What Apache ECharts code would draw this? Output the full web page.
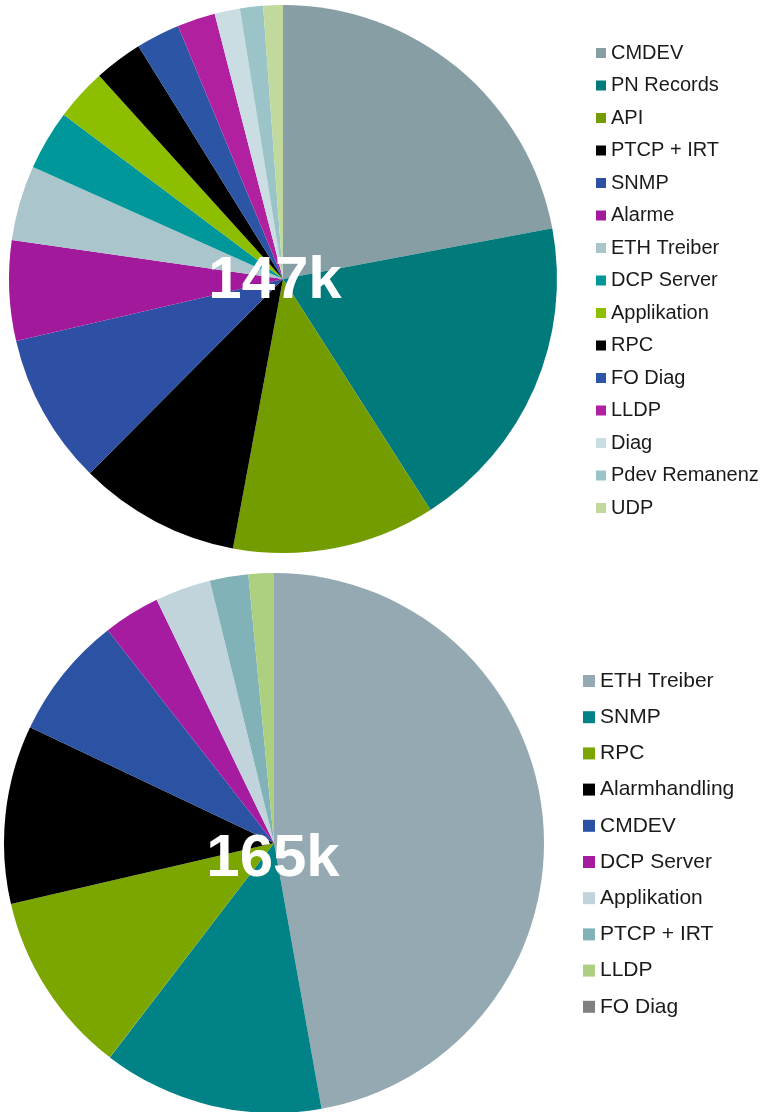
<!DOCTYPE html>
<html>
<head>
<meta charset="utf-8">
<script src="https://cdn.jsdelivr.net/npm/echarts@6/dist/echarts.min.js"></script>
<style>
  html, body { margin: 0; padding: 0; background: #ffffff; }
  #chart { width: 766px; height: 1112px; }
</style>
</head>
<body>
<div id="chart"></div>
<script>
// Code size per module (kB), first build: 147k in total
const topNames = ['CMDEV', 'PN Records', 'API', 'PTCP + IRT', 'SNMP', 'Alarme', 'ETH Treiber',
  'DCP Server', 'Applikation', 'RPC', 'FO Diag', 'LLDP', 'Diag', 'Pdev Remanenz', 'UDP'];
const topValues = [32.4, 27.8, 17.6, 14.0, 13.1, 8.7, 6.5, 5.2, 4.5, 4.2, 3.8, 3.3, 2.2, 2.0, 1.7];
const topColors = ['#889ea5', '#007a7b', '#739c00', '#000000', '#2e50a4', '#a3199c', '#aac5cc',
  '#00979b', '#8dbf00', '#000000', '#2d55a6', '#b0209f', '#cadde3', '#9ac4c8', '#c1d99c'];
const topTotal = '147k';

// Code size per module (kB), second build: 165k in total
const bottomNames = ['ETH Treiber', 'SNMP', 'RPC', 'Alarmhandling', 'CMDEV', 'DCP Server',
  'Applikation', 'PTCP + IRT', 'LLDP', 'FO Diag'];
const bottomValues = [77.8, 21.8, 18.1, 17.6, 12.2, 5.6, 5.5, 3.8, 2.5, 0];
const bottomColors = ['#94a9b1', '#008286', '#7ba600', '#000000', '#2c52a3', '#a61ca1',
  '#c1d4dc', '#80b2b8', '#acd080', '#808080'];
const bottomTotal = '165k';

const FONT = '"Liberation Sans", Arial, Helvetica, sans-serif';

function pieData(names, values, colors) {
  return names.map((n, i) => ({ name: n, value: values[i], itemStyle: { color: colors[i] } }));
}
function legendData(names, colors) {
  return names.map((n, i) => ({ name: n, itemStyle: { color: colors[i] } }));
}

const pieBase = {
  type: 'pie',
  startAngle: 90,
  clockwise: true,
  label: { show: false },
  labelLine: { show: false },
  emphasis: { disabled: true },
  itemStyle: { borderWidth: 0 },
  silent: true,
  animation: false
};

const chart = echarts.init(document.getElementById('chart'), null, { renderer: 'canvas' });
chart.setOption({
  backgroundColor: '#ffffff',
  animation: false,
  legend: [
    {
      orient: 'vertical',
      left: 591,
      top: 38,
      icon: 'rect',
      itemWidth: 10,
      itemHeight: 10,
      itemGap: 12.5,
      selectedMode: false,
      textStyle: { fontFamily: FONT, fontSize: 20, lineHeight: 20, color: '#1a1a1a' },
      data: legendData(topNames, topColors)
    },
    {
      orient: 'vertical',
      left: 578,
      top: 665,
      icon: 'rect',
      itemWidth: 12,
      itemHeight: 12,
      itemGap: 14.2,
      selectedMode: false,
      textStyle: { fontFamily: FONT, fontSize: 21, lineHeight: 22, color: '#1a1a1a' },
      data: legendData(bottomNames, bottomColors)
    }
  ],
  series: [
    Object.assign({}, pieBase, {
      name: 'Build 1',
      center: [283, 279],
      radius: [0, 274],
      data: pieData(topNames, topValues, topColors)
    }),
    Object.assign({}, pieBase, {
      name: 'Build 2',
      center: [274, 843],
      radius: [0, 270],
      data: pieData(bottomNames, bottomValues, bottomColors)
    })
  ],
  graphic: [
    {
      type: 'text', x: 275, y: 281, z: 100, silent: true,
      style: { text: topTotal, fill: '#ffffff', font: 'bold 60px ' + FONT, align: 'center', verticalAlign: 'middle' }
    },
    {
      type: 'text', x: 273, y: 859, z: 100, silent: true,
      style: { text: bottomTotal, fill: '#ffffff', font: 'bold 60px ' + FONT, align: 'center', verticalAlign: 'middle' }
    }
  ]
});
</script>
</body>
</html>
